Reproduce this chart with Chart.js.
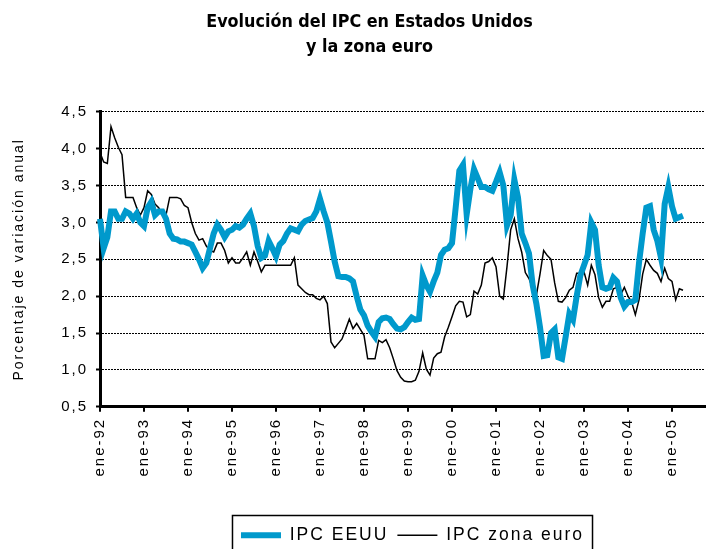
<!DOCTYPE html>
<html>
<head>
<meta charset="utf-8">
<script src="https://cdn.jsdelivr.net/npm/chart.js@4.4.1/dist/chart.umd.min.js"></script>
<style>
  html, body { margin: 0; padding: 0; background: #fff; }
</style>
</head>
<body>
<canvas id="ipcChart" width="707" height="549"></canvas>
<script>
// meses y años del eje (ene-92 ... oct-05)
var meses = ['ene', 'feb', 'mar', 'abr', 'may', 'jun', 'jul', 'ago', 'sep', 'oct', 'nov', 'dic'];
var anios = ['92', '93', '94', '95', '96', '97', '98', '99', '00', '01', '02', '03', '04', '05'];
var numMeses = 166;

// IPC EEUU, variación anual (%), mensual desde ene-92
var ipcEEUU = [
    3.05, 2.65, 2.80, 3.15, 3.15, 3.05, 3.05, 3.15, 3.12, 3.05, 3.12, 3.00,
    2.95, 3.20, 3.28, 3.10, 3.15, 3.15, 3.05, 2.85, 2.78, 2.77, 2.74, 2.74,
    2.72, 2.70, 2.60, 2.50, 2.38, 2.45, 2.65, 2.85, 2.97, 2.90, 2.80, 2.88,
    2.90, 2.95, 2.93, 2.97, 3.05, 3.12, 2.95, 2.68, 2.52, 2.55, 2.75, 2.65,
    2.54, 2.70, 2.75, 2.85, 2.92, 2.90, 2.88, 2.97, 3.02, 3.04, 3.06, 3.15,
    3.32, 3.15, 3.00, 2.74, 2.47, 2.27, 2.26, 2.26, 2.24, 2.20, 2.00, 1.82,
    1.74, 1.60, 1.52, 1.45, 1.65, 1.70, 1.71, 1.69, 1.62, 1.56, 1.55, 1.58,
    1.65, 1.71, 1.68, 1.69, 2.28, 2.15, 2.06, 2.20, 2.32, 2.56, 2.63, 2.65,
    2.72, 3.20, 3.70, 3.78, 3.11, 3.45, 3.72, 3.60, 3.48, 3.48, 3.45, 3.43,
    3.55, 3.68, 3.50, 2.96, 3.10, 3.58, 3.34, 2.85, 2.72, 2.58, 2.15, 1.90,
    1.58, 1.19, 1.20, 1.50, 1.55, 1.17, 1.15, 1.45, 1.76, 1.68, 2.00, 2.28,
    2.42, 2.56, 3.00, 2.90, 2.42, 2.12, 2.10, 2.12, 2.25, 2.20, 1.98, 1.86,
    1.92, 1.92, 1.95, 2.45, 2.85, 3.20, 3.22, 2.90, 2.75, 2.52, 3.25, 3.48,
    3.22, 3.05, 3.07, 3.09
];

// IPC zona euro, variación anual (%), mensual desde ene-92
var ipcZonaEuro = [
    3.95, 3.82, 3.80, 4.30, 4.15, 4.02, 3.92, 3.34, 3.34, 3.34, 3.20, 3.10,
    3.20, 3.43, 3.38, 3.25, 3.20, 3.11, 3.10, 3.34, 3.34, 3.34, 3.32, 3.23,
    3.20, 3.00, 2.85, 2.76, 2.78, 2.68, 2.62, 2.60, 2.72, 2.72, 2.62, 2.45,
    2.52, 2.45, 2.45, 2.52, 2.60, 2.42, 2.60, 2.47, 2.33, 2.42, 2.42, 2.42,
    2.42, 2.42, 2.42, 2.42, 2.42, 2.52, 2.15, 2.10, 2.05, 2.02, 2.02, 1.97,
    1.95, 2.00, 1.90, 1.38, 1.30, 1.36, 1.42, 1.55, 1.69, 1.56, 1.63, 1.55,
    1.47, 1.15, 1.15, 1.15, 1.40, 1.37, 1.41, 1.30, 1.15, 0.99, 0.90, 0.85,
    0.84, 0.84, 0.86, 0.98, 1.23, 1.01, 0.93, 1.16, 1.22, 1.24, 1.45, 1.58,
    1.72, 1.87, 1.93, 1.92, 1.72, 1.75, 2.07, 2.03, 2.15, 2.45, 2.47, 2.52,
    2.40, 2.00, 1.96, 2.40, 2.90, 3.05, 2.78, 2.60, 2.32, 2.24, 2.10, 2.01,
    2.30, 2.62, 2.55, 2.50, 2.18, 1.93, 1.92, 1.98, 2.08, 2.12, 2.31, 2.31,
    2.33, 2.15, 2.42, 2.29, 1.98, 1.85, 1.93, 1.93, 2.10, 2.12, 2.02, 2.12,
    2.00, 1.92, 1.75, 1.95, 2.30, 2.50, 2.42, 2.35, 2.31, 2.20, 2.38, 2.24,
    2.20, 1.95, 2.10, 2.08
];

var labels = [];
anios.forEach(function (a) {
    meses.forEach(function (m) {
        if (labels.length < numMeses) labels.push(m + '-' + a);
    });
});

var fuente = "'Liberation Sans', Arial, sans-serif";
var fuenteTitulo = "'Liberation Sans Narrow', 'Arial Narrow', 'DejaVu Sans Condensed', sans-serif";

// espaciado de letras como en el original (el título va sin espaciado)
var espaciado = {
    id: 'espaciado',
    afterInit: function (c) {
        var tb = c.titleBlock;
        if (!tb) return;
        var dibujar = tb.draw;
        tb.draw = function () {
            c.ctx.letterSpacing = '0px';
            dibujar.apply(tb, arguments);
            c.ctx.letterSpacing = '2px';
        };
    },
    beforeUpdate: function (c) { c.ctx.letterSpacing = '2px'; },
    beforeLayout: function (c) { c.ctx.letterSpacing = '2px'; },
    beforeDraw: function (c) { c.ctx.letterSpacing = '2px'; }
};

// recuadro de la leyenda y desplazamientos de título y leyenda
var marcoLeyenda = {
    id: 'marcoLeyenda',
    afterLayout: function (c) {
        c.titleBlock.left += 15;
        c.titleBlock.right += 15;
        c.legend.left += 10;
        c.legend.right += 10;
        c.legend.top += 5;
        c.legend.bottom += 5;
    },
    afterDraw: function (c) {
        var l = c.legend;
        var cx = (l.left + l.right) / 2;
        var w = l.lineWidths[0];
        var ctx = c.ctx;
        ctx.save();
        ctx.strokeStyle = '#000';
        ctx.lineWidth = 1.5;
        ctx.strokeRect(cx - w / 2 - 4, l.top - 2, w + 8, 60);
        ctx.restore();
    }
};

var ctx = document.getElementById('ipcChart').getContext('2d');
var myChart = new Chart(ctx, {
    type: 'line',
    data: {
        labels: labels,
        datasets: [
            {
                label: 'IPC EEUU',
                data: ipcEEUU,
                borderColor: '#0099cc',
                backgroundColor: '#0099cc',
                borderWidth: 6,
                pointRadius: 0,
                tension: 0
            },
            {
                label: 'IPC zona euro',
                data: ipcZonaEuro,
                borderColor: '#000',
                backgroundColor: '#000',
                borderWidth: 1.5,
                pointRadius: 0,
                tension: 0
            }
        ]
    },
    plugins: [espaciado, marcoLeyenda],
    options: {
        responsive: false,
        animation: false,
        devicePixelRatio: 1,
        layout: { padding: { left: 4, right: 2, top: 0, bottom: 0 } },
        plugins: {
            title: {
                display: true,
                text: ['Evolución del IPC en Estados Unidos', 'y la zona euro'],
                color: '#000',
                font: { family: fuenteTitulo, size: 17.8, weight: 'bold', lineHeight: 1.4 },
                padding: { top: 10, bottom: 52 }
            },
            legend: {
                position: 'bottom',
                fullSize: false,
                labels: {
                    usePointStyle: true,
                    pointStyle: 'line',
                    pointStyleWidth: 40,
                    boxWidth: 40,
                    color: '#000',
                    font: { family: fuente, size: 17.5 },
                    padding: 9
                }
            },
            tooltip: { enabled: false }
        },
        scales: {
            x: {
                type: 'category',
                grid: {
                    drawOnChartArea: false,
                    color: function (c) { return c.index % 12 === 0 ? '#000' : 'rgba(0,0,0,0)'; },
                    lineWidth: 2,
                    tickLength: 5
                },
                border: { color: '#000', width: 3 },
                ticks: {
                    autoSkip: false,
                    minRotation: 90,
                    maxRotation: 90,
                    padding: 6,
                    color: '#000',
                    font: { family: fuente, size: 15 },
                    callback: function (v, i) { return i % 12 === 0 ? this.getLabelForValue(v) : ''; }
                },
                afterFit: function (s) {
                    s.paddingRight = 2;
                    s.height += 30;
                }
            },
            y: {
                min: 0.5,
                max: 4.5,
                ticks: {
                    stepSize: 0.5,
                    padding: 8,
                    color: '#000',
                    font: { family: fuente, size: 15 },
                    callback: function (v) { return v.toFixed(1).replace('.', ','); }
                },
                grid: {
                    color: '#000',
                    lineWidth: 1,
                    tickLength: 4,
                    tickColor: '#000',
                    tickWidth: 2,
                    tickBorderDash: []
                },
                border: { color: '#000', width: 3, dash: [2, 1] },
                title: {
                    display: true,
                    text: 'Porcentaje de variación anual',
                    color: '#000',
                    font: { family: fuente, size: 14 },
                    padding: { top: 7, bottom: 0 }
                },
                afterFit: function (s) { s.width = 96; }
            }
        }
    }
});
</script>
</body>
</html>
